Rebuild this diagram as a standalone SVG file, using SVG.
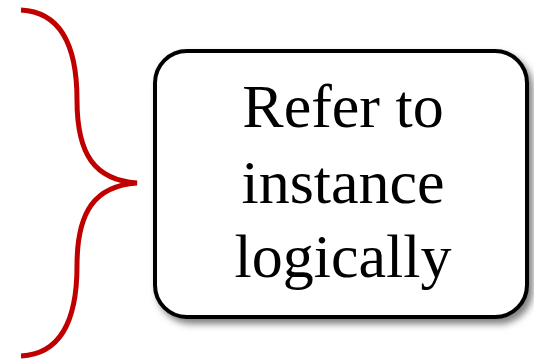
<svg xmlns="http://www.w3.org/2000/svg" width="534" height="361" viewBox="0 0 534 361">
  <defs>
    <filter id="shadow" x="-10%" y="-10%" width="125%" height="130%">
      <feDropShadow dx="4" dy="5" stdDeviation="3.5" flood-color="#000" flood-opacity="0.5"/>
    </filter>
  </defs>
  <style>
    .brace { fill: none; stroke: #c00000; stroke-width: 5; stroke-linecap: butt; stroke-linejoin: miter; }
    .box { fill: #fff; stroke: #000; stroke-width: 4; }
    .label { font-family: "Liberation Serif", "Times New Roman", serif; font-size: 62px; fill: #000; text-anchor: middle; }
  </style>
  <g id="connectors">
    <path class="brace" d="M21,10 C60,12 77,45 77,100 C77,155 95,180 137,183 C95,186 77,211 77,266 C77,321 60,354 21,356"/>
  </g>
  <g id="node-refer">
    <rect class="box" x="155" y="51" width="372" height="266" rx="32" ry="32" filter="url(#shadow)"/>
    <text class="label" x="343" y="127">Refer to</text>
    <text class="label" x="343" y="203">instance</text>
    <text class="label" x="343" y="277">logically</text>
  </g>
</svg>
